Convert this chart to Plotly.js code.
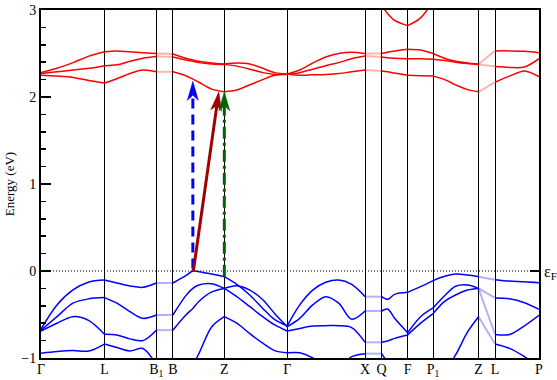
<!DOCTYPE html>
<html><head><meta charset="utf-8">
<script src="https://cdn.plot.ly/plotly-3.0.1.min.js"></script>
<style>html,body{margin:0;padding:0;background:#fff}</style>
</head><body><div id="chart" style="width:557px;height:380px"></div>
<script>
// k-path sample positions (cumulative path length, arbitrary units)
const kPath = [0,16,32,48,63.5,76,89,102,115.5,132,145,152,158,171,183.5,196,209,222,234,246.5,259,272,285,298,311,324.5,341,347,354,367,380,392.5,404,415,427,438,454.5,469,484,498.5];
// high-symmetry points
const kTickPos = [0,63.5,115.5,132,183.5,246.5,324.5,341,367,392.5,438,454.5,498.5];
const kTickLabels = ['Γ','L','B<sub>1</sub>','B','Z','Γ','X','Q','F','P<sub>1</sub>','Z','L','P'];
// path segments drawn faded (discontinuities)
const paleSegments = [2, 6, 10];
const fermiE = 0;

// conduction bands (eV)
const cb1 = [2.25,2.24,2.225,2.19,2.16,2.21,2.27,2.31,2.29,2.29,2.245,2.205,2.17,2.09,2.06,2.08,2.14,2.20,2.25,2.265,2.25,2.255,2.26,2.27,2.29,2.31,2.30,2.29,2.275,2.25,2.245,2.24,2.20,2.14,2.085,2.06,2.17,2.24,2.30,2.235];
const cb2 = [2.27,2.29,2.31,2.33,2.36,2.37,2.41,2.445,2.465,2.46,2.425,2.41,2.395,2.38,2.375,2.355,2.32,2.28,2.26,2.26,2.28,2.32,2.36,2.395,2.44,2.47,2.46,2.45,2.445,2.44,2.44,2.435,2.42,2.40,2.385,2.375,2.35,2.34,2.345,2.44];
const cb3 = [2.28,2.33,2.395,2.47,2.52,2.53,2.52,2.51,2.50,2.495,2.445,2.425,2.41,2.39,2.38,2.39,2.38,2.33,2.28,2.265,2.31,2.39,2.46,2.50,2.515,2.50,2.50,2.515,2.53,2.55,2.54,2.50,2.445,2.41,2.39,2.38,2.53,2.53,2.525,2.51];
const cb4 = [null,null,null,null,null,null,null,null,null,null,null,null,null,null,null,null,null,null,null,null,null,null,null,null,null,null,3.05,2.96,2.88,2.82,2.91,3.1,null,null,null,null,null,null,null,null];
// valence bands (eV)
const vb1 = [-0.667,-0.39,-0.218,-0.126,-0.103,-0.138,-0.172,-0.188,-0.138,-0.138,-0.054,0.0,-0.008,-0.035,-0.065,-0.153,-0.276,-0.43,-0.56,-0.63,-0.39,-0.22,-0.13,-0.103,-0.153,-0.295,-0.295,-0.326,-0.268,-0.245,-0.18,-0.11,-0.06,-0.035,-0.046,-0.065,-0.10,-0.116,-0.123,-0.134];
const vb2 = [-0.68,-0.525,-0.37,-0.32,-0.306,-0.37,-0.467,-0.544,-0.506,-0.506,-0.283,-0.2,-0.16,-0.146,-0.2,-0.17,-0.22,-0.33,-0.49,-0.64,-0.544,-0.39,-0.295,-0.37,-0.555,-0.46,-0.46,-0.437,-0.544,-0.71,-0.525,-0.425,-0.285,-0.175,-0.16,-0.2,-0.31,-0.32,-0.365,-0.44];
const vb3 = [-0.69,-0.60,-0.525,-0.57,-0.728,-0.735,-0.78,-0.80,-0.68,-0.68,-0.506,-0.43,-0.35,-0.24,-0.2,-0.295,-0.41,-0.525,-0.62,-0.69,-0.66,-0.632,-0.628,-0.628,-0.65,-0.82,-0.82,-0.805,-0.774,-0.736,-0.60,-0.49,-0.35,-0.276,-0.218,-0.2,-0.73,-0.73,-0.63,-0.51];
const vb4 = [-0.945,-0.925,-0.915,-0.92,-0.84,-0.88,-0.92,-0.89,-1.08,-1.1,-1.2,-1.08,-0.95,-0.64,-0.525,-0.60,-0.72,-0.83,-0.915,-0.94,-0.94,-1.0,-1.12,-1.12,-0.985,-0.95,-0.95,-1.05,-1.15,-1.2,-1.2,-1.2,-1.15,-0.965,-0.70,-0.525,-0.84,-0.89,-0.985,-1.1];

// transition arrows
const arrowK0 = [152, 152.5, 183.5];
const arrowE0 = [0.03, 0.0, -0.065];
const arrowK1 = [152, 178, 183.5];
const arrowE1 = [2.18, 2.06, 2.06];
const arrowColors = ['#0000ff', '#a00000', '#006400'];
const arrowDash = ['10px,6px', 'solid', '12px,4px,3px,4px'];

const W = 557, H = 380, M = {l:41, r:18, t:10, b:22};
const xRange = [0, 498.5], yRange = [-1, 3];
const sx = (W - M.l - M.r) / (xRange[1] - xRange[0]);
const sy = (H - M.t - M.b) / (yRange[1] - yRange[0]);

const segBounds = kTickPos.map(k => kPath.indexOf(k));
const traces = [];
function addBand(vals, color, paleColor) {
  for (let s = 0; s < segBounds.length - 1; s++) {
    const xs = [], ys = [];
    for (let i = segBounds[s]; i <= segBounds[s+1]; i++) {
      if (vals[i] !== null) { xs.push(kPath[i]); ys.push(vals[i]); }
    }
    if (xs.length < 2) continue;
    const pale = paleSegments.includes(s);
    traces.push({type:'scatter', mode:'lines', x:xs, y:ys, hoverinfo:'skip', showlegend:false,
      line:{color: pale ? paleColor : color, width: pale ? 2 : 1.5, shape: pale ? 'linear' : 'spline', smoothing: 0.9}});
  }
}
[cb1, cb2, cb3, cb4].forEach(b => addBand(b, '#ff0000', 'rgba(255,0,0,0.3)'));
[vb1, vb2, vb3, vb4].forEach(b => addBand(b, '#0000ff', 'rgba(0,0,255,0.3)'));

// arrows: shaft + notched head computed in pixel space
const headL = 19, headW = 5.5, notch = 5;
for (let a = 0; a < arrowK0.length; a++) {
  const dxp = (arrowK1[a] - arrowK0[a]) * sx, dyp = (arrowE1[a] - arrowE0[a]) * sy;
  const len = Math.hypot(dxp, dyp), ux = dxp / len, uy = dyp / len;
  const px = -uy, py = ux;
  const toD = (ox, oy) => [arrowK1[a] + ox / sx, arrowE1[a] + oy / sy];
  const tip = toD(0, 0);
  const left = toD(-headL * ux + headW * px, -headL * uy + headW * py);
  const right = toD(-headL * ux - headW * px, -headL * uy - headW * py);
  const nt = toD(-(headL - notch) * ux, -(headL - notch) * uy);
  traces.push({type:'scatter', mode:'lines', x:[arrowK0[a], nt[0]], y:[arrowE0[a], nt[1]], hoverinfo:'skip', showlegend:false,
    line:{color: arrowColors[a], width: 3, dash: arrowDash[a]}});
  traces.push({type:'scatter', mode:'lines', x:[tip[0], left[0], nt[0], right[0], tip[0]], y:[tip[1], left[1], nt[1], right[1], tip[1]],
    fill:'toself', fillcolor: arrowColors[a], line:{color: arrowColors[a], width: 0.5}, hoverinfo:'skip', showlegend:false});
}
// dummy trace for right axis
traces.push({type:'scatter', mode:'lines', x:[null], y:[null], yaxis:'y2', hoverinfo:'skip', showlegend:false});

const layout = {
  width: W, height: H, margin: {l:M.l, r:M.r, t:M.t, b:M.b, pad:0},
  paper_bgcolor:'#fff', plot_bgcolor:'#fff', showlegend:false,
  font:{family:'"Liberation Serif", "Times New Roman", serif', color:'#000', size:14},
  xaxis:{range:xRange, tickmode:'array', tickvals:kTickPos, ticktext:kTickLabels, ticks:'',
    showgrid:true, gridcolor:'#000', gridwidth:1, showline:true, linecolor:'#000', linewidth:2, mirror:true,
    zeroline:false, tickfont:{size:14}, ticklabelstandoff:-3, fixedrange:true},
  yaxis:{range:yRange, tickmode:'linear', tick0:0, dtick:1, ticks:'inside', ticklen:10, tickwidth:2, tickcolor:'#000',
    minor:{dtick:0.2, ticks:'inside', ticklen:5, tickwidth:1.5, tickcolor:'#000', showgrid:false},
    showline:true, linewidth:2, linecolor:'#000', mirror:true, zeroline:false, showgrid:false,
    tickfont:{size:14}, title:{text:'Energy (eV)', font:{size:13}, standoff:4}, fixedrange:true},
  yaxis2:{range:yRange, overlaying:'y', side:'right', tickmode:'array', tickvals:[fermiE], ticktext:['ε<sub>F</sub>'],
    ticks:'inside', ticklen:9, tickwidth:2, tickcolor:'#000', showline:false, showgrid:false, zeroline:false,
    tickfont:{size:16}, ticklabelstandoff:4, fixedrange:true},
  shapes:[{type:'line', xref:'paper', x0:0, x1:1, yref:'y', y0:fermiE, y1:fermiE,
    line:{color:'#000', width:1, dash:'1px,2px'}, layer:'below'}]
};
Plotly.newPlot('chart', traces, layout, {displayModeBar:false, staticPlot:true});
</script></body></html>
